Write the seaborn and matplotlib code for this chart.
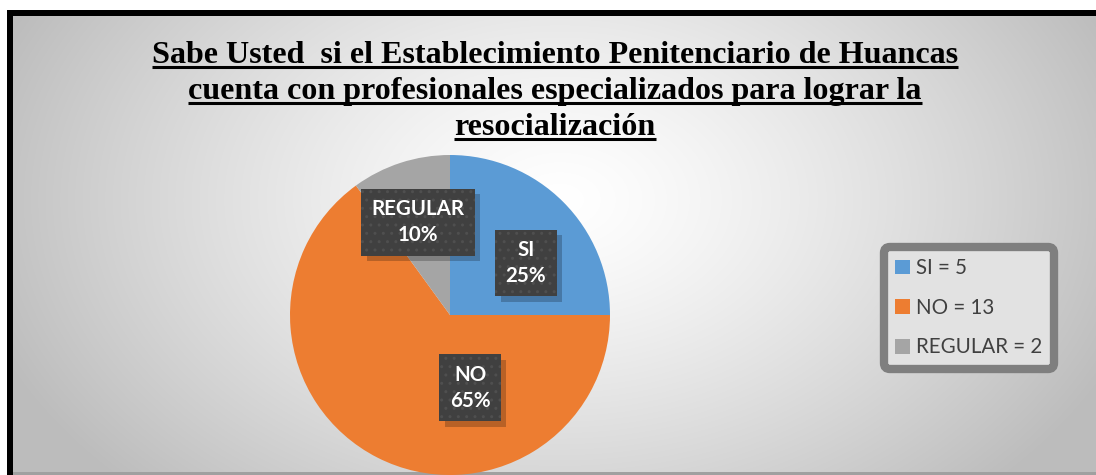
import numpy as np
import matplotlib
matplotlib.use("Agg")
import matplotlib.pyplot as plt
from matplotlib.patches import Patch, Rectangle
import seaborn as sns

# Data
categories = ["SI", "NO", "REGULAR"]
counts = [5, 13, 2]
colors = ["#5B9BD5", "#ED7D31", "#A5A5A5"]
title_lines = ["Sabe Usted  si el Establecimiento Penitenciario de Huancas",
               "cuenta con profesionales especializados para lograr la",
               "resocialización"]

# label anchor points inside the pie (data units, radius = 1)
label_pos = [(0.475, 0.325), (0.125, -0.456), (-0.20, 0.58)]

sns.set_theme(style="white")
plt.rcParams['font.family'] = ['DejaVu Sans']

W, H = 1096, 475
fig = plt.figure(figsize=(W / 100, H / 100), dpi=100)
fig.patch.set_facecolor("white")

# background radial gradient, placed pixel for pixel
yy, xx = np.mgrid[0:H, 0:W] + 0.5
d = np.sqrt(((xx - 560) / 620.0) ** 2 + ((yy - 200) / 420.0) ** 2)
shade = np.clip(1.0 - 0.27 * d ** 1.3, 0.74, 1.0)
rgb = np.dstack([shade] * 3)
fig.figimage(rgb, xo=0, yo=0, origin="upper", zorder=0)

bg = fig.add_axes([0, 0, 1, 1], zorder=1)
bg.set_xlim(0, W)
bg.set_ylim(H, 0)
bg.axis("off")
# white margins, black frame lines, grey bottom edge
bg.add_patch(Rectangle((0, 0), W, 10, color="white", lw=0))
bg.add_patch(Rectangle((0, 0), 7, H, color="white", lw=0))
bg.add_patch(Rectangle((7, 10), W, 6, color="black", lw=0))
bg.add_patch(Rectangle((7, 10), 6, H - 10, color="black", lw=0))
bg.add_patch(Rectangle((13, 472), W, 3, color="#a0a0a0", lw=0))

# title with underline
tfont = dict(family="Liberation Serif", weight="bold", size=23.1, color="black")
baselines = [63, 99, 135]
texts = []
for line, yb in zip(title_lines, baselines):
    texts.append(bg.text(555, yb, line, ha="center", va="baseline", **tfont))
fig.canvas.draw()
r = fig.canvas.get_renderer()
for t, yb in zip(texts, baselines):
    bb = t.get_window_extent(r)
    bg.plot([bb.x0, bb.x1], [yb + 4, yb + 4], color="black", lw=2.2,
            solid_capstyle="butt")

# pie
ax = fig.add_axes([290 / W, 0, 320 / W, 320 / H], zorder=2)
ax.pie(counts, colors=colors, startangle=90, counterclock=False,
       radius=1, wedgeprops=dict(linewidth=0))
ax.set_xlim(-1, 1)
ax.set_ylim(-1, 1)
ax.set_aspect("equal")
ax.axis("off")

total = sum(counts)
lfont = dict(family=["Lato", "DejaVu Sans"], weight="bold", size=14.8,
             ha="center", va="center", linespacing=1.4)
for cat, n, (px, py) in zip(categories, counts, label_pos):
    s = f"{cat}\n{round(100 * n / total)}%"
    # shadow
    ax.text(px + 0.035, py - 0.035, s, color=(0, 0, 0, 0), **lfont,
            bbox=dict(boxstyle="square,pad=0.5", fc=(0, 0, 0, 0.22), lw=0))
    ax.text(px, py, s, color="white", **lfont,
            bbox=dict(boxstyle="square,pad=0.5", fc="#404040",
                      ec="#4f4f4f", lw=0, hatch=".."))

# legend
handles = [Patch(facecolor=c, edgecolor="none") for c in colors]
labels = [f"{c} = {n}" for c, n in zip(categories, counts)]
leg = fig.legend(handles, labels, loc="upper left",
                 bbox_to_anchor=(884 / W, 1 - 247 / H), borderaxespad=0,
                 prop=dict(family=["Lato", "DejaVu Sans"], size=14.8),
                 labelcolor="#404040", handlelength=0.72, handleheight=0.72,
                 handletextpad=0.3, labelspacing=0.95, borderpad=0.55,
                 frameon=True, fancybox=True)
leg.set_zorder(5)
frame = leg.get_frame()
frame.set_edgecolor("#7f7f7f")
frame.set_linewidth(6)
frame.set_facecolor("#e2e2e2")
frame.set_alpha(1)
frame.set_boxstyle("round,pad=0,rounding_size=0.3")

# repaint the rightmost columns with the gradient (no frame on that side)
strip = rgb[16:472, W - 8:].copy()
fig.figimage(strip, xo=W - 8, yo=H - 472, origin="upper", zorder=20)

fig.savefig("out.png", dpi=100)
